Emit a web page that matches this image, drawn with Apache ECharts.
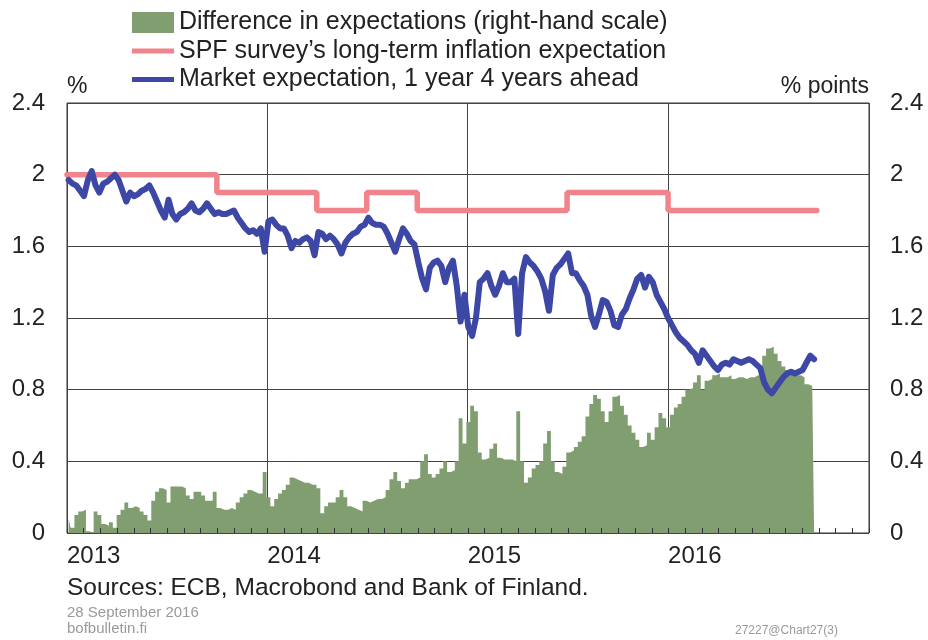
<!DOCTYPE html>
<html>
<head>
<meta charset="utf-8">
<script src="https://cdn.jsdelivr.net/npm/echarts@6/dist/echarts.min.js"></script>
<style>
  html, body { margin: 0; padding: 0; background: #fff; }
  #main { width: 928px; height: 640px; }
</style>
</head>
<body>
<div id="main"></div>
<script>
const market2013 = [1.97,1.95,1.94,1.91,1.88,1.97,2.02,1.94,1.90,1.95,1.96,1.98,2.00,1.97,1.91,1.85,1.90,1.88,1.89,1.91,1.92,1.94,1.90,1.85,1.80,1.76,1.86,1.78,1.75,1.78,1.79,1.81,1.84,1.80,1.79,1.81,1.84,1.81,1.78,1.79,1.78,1.78,1.79,1.80,1.76,1.73,1.70,1.68,1.69,1.67,1.70,1.57];
const market2014 = [1.74,1.75,1.72,1.70,1.70,1.66,1.59,1.63,1.62,1.64,1.65,1.63,1.55,1.68,1.67,1.64,1.66,1.64,1.61,1.56,1.62,1.65,1.67,1.68,1.71,1.72,1.76,1.73,1.72,1.72,1.71,1.67,1.62,1.57,1.64,1.70,1.67,1.63,1.61,1.51,1.42,1.36,1.48,1.51,1.52,1.49,1.40,1.48,1.52,1.38,1.18,1.33];
const market2015 = [1.15,1.10,1.20,1.40,1.42,1.45,1.38,1.33,1.38,1.45,1.40,1.40,1.42,1.11,1.45,1.54,1.51,1.49,1.46,1.42,1.35,1.24,1.44,1.48,1.50,1.53,1.56,1.45,1.45,1.41,1.38,1.33,1.21,1.15,1.22,1.30,1.29,1.24,1.16,1.15,1.22,1.25,1.31,1.36,1.42,1.44,1.37,1.43,1.40,1.33,1.29,1.25];
const market2016 = [1.20,1.16,1.12,1.09,1.07,1.05,1.02,1.00,0.95,1.02,0.99,0.96,0.93,0.91,0.94,0.95,0.94,0.97,0.96,0.95,0.96,0.97,0.96,0.94,0.92,0.84,0.80,0.78,0.81,0.84,0.87,0.89,0.90,0.89,0.90,0.91,0.95,0.99,0.97];

const diff2013 = [0.08,0.03,0.10,0.12,0.13,0.01,0.00,0.12,0.10,0.05,0.04,0.06,0.03,0.10,0.13,0.17,0.14,0.15,0.14,0.12,0.10,0.07,0.18,0.23,0.25,0.24,0.17,0.26,0.26,0.26,0.25,0.21,0.19,0.23,0.23,0.21,0.18,0.18,0.23,0.14,0.13,0.13,0.14,0.13,0.17,0.20,0.22,0.24,0.23,0.22,0.22,0.34];
const diff2014 = [0.20,0.15,0.19,0.22,0.24,0.27,0.31,0.30,0.29,0.28,0.28,0.27,0.27,0.25,0.11,0.15,0.17,0.17,0.20,0.24,0.20,0.15,0.14,0.13,0.12,0.18,0.17,0.18,0.19,0.19,0.20,0.24,0.30,0.34,0.29,0.25,0.28,0.30,0.30,0.31,0.40,0.44,0.33,0.31,0.33,0.36,0.40,0.34,0.35,0.40,0.64,0.50];
const diff2015 = [0.62,0.71,0.68,0.45,0.41,0.42,0.47,0.50,0.42,0.41,0.41,0.41,0.40,0.68,0.40,0.28,0.31,0.36,0.38,0.40,0.50,0.57,0.40,0.34,0.33,0.37,0.45,0.46,0.48,0.51,0.54,0.65,0.72,0.77,0.75,0.68,0.62,0.68,0.76,0.77,0.71,0.66,0.60,0.56,0.52,0.48,0.49,0.56,0.52,0.59,0.67,0.64];
const diff2016 = [0.59,0.66,0.70,0.72,0.76,0.80,0.81,0.84,0.88,0.80,0.85,0.86,0.88,0.89,0.87,0.87,0.88,0.86,0.87,0.87,0.86,0.87,0.87,0.88,0.87,0.99,1.03,1.04,1.00,0.96,0.93,0.91,0.89,0.88,0.88,0.87,0.83,0.82,0.84];

// SPF survey: value holds from each date until the next one
const spfDates = ['2013-01-01','2013-10-01','2014-04-01','2014-07-01','2014-10-01','2015-07-01','2016-01-01','2016-09-28'];
const spfValues = [2.0, 1.9, 1.8, 1.9, 1.8, 1.9, 1.8, 1.8];

const yTicks = [0, 0.4, 0.8, 1.2, 1.6, 2, 2.4];

const marketValues = market2013.concat(market2014, market2015, market2016);
const diffValues = diff2013.concat(diff2014, diff2015, diff2016);

// weekly dates, starting first Friday of 2013
const weekDates = marketValues.map((v, i) => new Date(2013, 0, 4 + 7 * i).getTime());

const DAY = 86400000;
const font = 'Liberation Sans, Arial, sans-serif';
// thin bar inside the legend box, used as the line icon
const lineIcon = 'path://M0,0 M0,8 L42,8 L42,13 L0,13 Z M42,21';
const tickLabel = (v) => String(yTicks.find(t => Math.abs(t - v) < 1e-6) ?? v);

let chart = echarts.init(document.getElementById('main'));
chart.setOption({
  animation: false,
  textStyle: { fontFamily: font },
  legend: {
    orient: 'vertical',
    left: 127, top: 5,
    itemWidth: 42, itemHeight: 21, itemGap: 3.5,
    textStyle: { fontSize: 25, lineHeight: 24, color: '#222', fontFamily: font },
    data: [
      { name: 'Difference in expectations (right-hand scale)', icon: 'rect' },
      { name: 'SPF survey\u2019s long-term inflation expectation', icon: lineIcon },
      { name: 'Market expectation, 1 year 4 years ahead', icon: lineIcon }
    ]
  },
  grid: {
    left: 67, right: 59, top: 103, bottom: 107,
    show: true, borderColor: '#333', borderWidth: 1, backgroundColor: 'transparent'
  },
  xAxis: [
    {
      type: 'time',
      min: new Date(2013, 0, 1).getTime(),
      max: new Date(2017, 0, 1).getTime(),
      minInterval: 365 * DAY,
      maxInterval: 366 * DAY,
      axisLine: { show: false },
      axisTick: { show: false },
      splitLine: { show: true, lineStyle: { color: '#444', width: 1 } },
      axisLabel: {
        showMinLabel: true, showMaxLabel: false,
        align: 'left', margin: 11,
        fontSize: 24, color: '#222', fontWeight: 'normal', fontFamily: font,
        formatter: (val) => String(new Date(val).getFullYear())
      }
    },
    {
      // monthly tick marks along the bottom
      type: 'value', position: 'bottom', z: 10, zlevel: 1,
      min: 0, max: 48, interval: 1,
      axisLine: { show: false },
      axisTick: { show: true, inside: true, length: 5, lineStyle: { color: '#333' } },
      axisLabel: { show: false },
      splitLine: { show: false }
    }
  ],
  yAxis: [
    {
      type: 'value', min: 0, max: 2.4, interval: 0.4,
      name: '%', nameLocation: 'end', nameGap: 5,
      nameTextStyle: { fontSize: 23, color: '#222', align: 'left', fontFamily: font },
      axisLine: { show: false }, axisTick: { show: false },
      axisLabel: { fontSize: 24, color: '#222', margin: 22, fontFamily: font, formatter: tickLabel },
      splitLine: { lineStyle: { color: '#444', width: 1 } }
    },
    {
      type: 'value', min: 0, max: 2.4, interval: 0.4, position: 'right',
      name: '% points', nameLocation: 'end', nameGap: 5,
      nameTextStyle: { fontSize: 23, color: '#222', align: 'right', fontFamily: font },
      axisLine: { show: false }, axisTick: { show: false },
      axisLabel: { fontSize: 24, color: '#222', margin: 21, fontFamily: font, formatter: tickLabel },
      splitLine: { show: false }
    }
  ],
  series: [
    {
      name: 'Difference in expectations (right-hand scale)',
      type: 'line', yAxisIndex: 1, step: 'middle',
      symbol: 'none', color: '#809e70',
      lineStyle: { width: 0 },
      areaStyle: { color: '#809e70', opacity: 1 },
      data: weekDates.map((d, i) => [d, diffValues[i]])
    },
    {
      name: 'SPF survey\u2019s long-term inflation expectation',
      type: 'line', step: 'end', symbol: 'none', color: '#f0848c',
      itemStyle: { color: '#f0848c' },
      lineStyle: { width: 5.5, color: '#f0848c', cap: 'round' },
      data: spfDates.map((d, i) => [d, spfValues[i]])
    },
    {
      name: 'Market expectation, 1 year 4 years ahead',
      type: 'line', symbol: 'none', color: '#3d47a5',
      itemStyle: { color: '#3d47a5' },
      lineStyle: { width: 6, color: '#3d47a5', join: 'round', cap: 'round' },
      data: weekDates.map((d, i) => [d, marketValues[i]])
    }
  ],
  graphic: [
    { type: 'text', left: 67, top: 576, style: { text: 'Sources: ECB, Macrobond and Bank of Finland.', fontSize: 24.5, fill: '#222', fontFamily: font } },
    { type: 'text', left: 67, top: 605, style: { text: '28 September 2016', fontSize: 15, fill: '#9a9a9a', fontFamily: font } },
    { type: 'text', left: 67, top: 621, style: { text: 'bofbulletin.fi', fontSize: 15, fill: '#9a9a9a', fontFamily: font } },
    { type: 'text', left: 735, top: 625, style: { text: '27227@Chart27(3)', fontSize: 12, fill: '#9a9a9a', fontFamily: font } }
  ]
});
</script>
</body>
</html>
